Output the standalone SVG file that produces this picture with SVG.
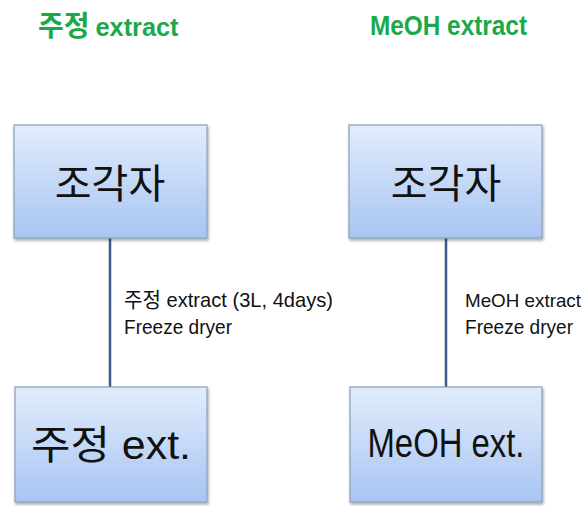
<svg xmlns="http://www.w3.org/2000/svg" width="588" height="506" viewBox="0 0 588 506">
<defs>
<linearGradient id="g" x1="0" y1="0" x2="0" y2="1">
<stop offset="0" stop-color="#e2ecfc"/>
<stop offset="1" stop-color="#a8c5f2"/>
</linearGradient>
<filter id="sh" x="-10%" y="-10%" width="120%" height="125%">
<feDropShadow dx="1" dy="2" stdDeviation="1.5" flood-color="#000" flood-opacity="0.35"/>
</filter>
</defs>
<style>
.box{fill:url(#g);stroke:#8a9fbd;stroke-width:1.2;filter:url(#sh)}
.big{font-family:"Liberation Sans","Noto Sans CJK KR",sans-serif;font-size:40px;fill:#111;text-anchor:middle}
.lbl{font-family:"Liberation Sans","Noto Sans CJK KR",sans-serif;font-size:21px;fill:#111}
.ttl{font-family:"Liberation Sans","Noto Sans CJK KR",sans-serif;font-weight:bold;fill:#1aa84b}
.con{stroke:#3b5a8a;stroke-width:2.5;fill:none}
</style>
<rect width="588" height="506" fill="#fff"/>
<g id="title-left"><text class="ttl" x="38" y="36"><tspan font-size="28px">주정</tspan><tspan font-size="25px" dx="6" textLength="83" lengthAdjust="spacingAndGlyphs">extract</tspan></text></g>
<g id="title-right"><text class="ttl" x="370" y="35" font-size="27px" textLength="157" lengthAdjust="spacingAndGlyphs">MeOH extract</text></g>
<g id="connectors">
<line class="con" x1="110" y1="238" x2="110" y2="387"/>
<line class="con" x1="446" y1="238" x2="446" y2="387"/>
</g>
<g id="node-left-top"><rect class="box" x="14" y="125" width="193" height="113"/><text class="big" x="110" y="198">조각자</text></g>
<g id="node-right-top"><rect class="box" x="349" y="125" width="193" height="113"/><text class="big" x="446" y="198">조각자</text></g>
<g id="node-left-bottom"><rect class="box" x="15" y="387" width="192" height="115"/><text class="big" x="111" y="459" textLength="160" lengthAdjust="spacingAndGlyphs">주정 ext.</text></g>
<g id="node-right-bottom"><rect class="box" x="350" y="387" width="192" height="115"/><text class="big" x="446" y="457" textLength="157" lengthAdjust="spacingAndGlyphs">MeOH ext.</text></g>
<g id="label-left"><text class="lbl" x="124" y="307" textLength="209" lengthAdjust="spacingAndGlyphs">주정 extract (3L, 4days)</text><text class="lbl" x="124" y="334" textLength="108" lengthAdjust="spacingAndGlyphs">Freeze dryer</text></g>
<g id="label-right"><text class="lbl" x="465" y="307" style="font-size:19px" textLength="116" lengthAdjust="spacingAndGlyphs">MeOH extract</text><text class="lbl" x="465" y="334" textLength="108" lengthAdjust="spacingAndGlyphs">Freeze dryer</text></g>
</svg>
